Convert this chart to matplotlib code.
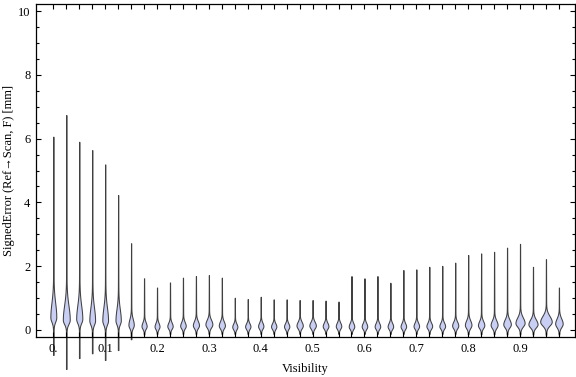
import matplotlib
matplotlib.use('Agg')
import matplotlib.pyplot as plt
import numpy as np
from matplotlib.ticker import MultipleLocator

plt.rcParams['font.family'] = ['Liberation Serif', 'DejaVu Serif']

# data: one violin per visibility bin
visibility = [round(0.025 * i, 3) for i in range(40)]
err_max = [6.06, 6.74, 5.90, 5.64, 5.19, 4.23, 2.72, 1.62, 1.33, 1.49,
           1.64, 1.69, 1.72, 1.64, 1.01, 0.97, 1.04, 0.96, 0.96, 0.94,
           0.94, 0.92, 0.89, 1.69, 1.62, 1.69, 1.48, 1.88, 1.90, 1.98,
           2.01, 2.11, 2.35, 2.40, 2.45, 2.58, 2.70, 1.98, 2.22, 1.33]
err_min = [-0.78, -1.22, -0.88, -0.73, -0.94, -0.63, -0.29, -0.14, -0.12, -0.12,
           -0.12, -0.12, -0.12, -0.12, -0.12, -0.12, -0.12, -0.12, -0.12, -0.12,
           -0.12, -0.12, -0.12, -0.12, -0.12, -0.12, -0.12, -0.12, -0.12, -0.12,
           -0.12, -0.12, -0.13, -0.13, -0.13, -0.14, -0.14, -0.14, -0.15, -0.14]
# mode of the distribution and spread below / above it
mode = [0.40, 0.32, 0.35, 0.30, 0.30, 0.30, 0.16, 0.12, 0.11, 0.12,
        0.13, 0.15, 0.18, 0.14, 0.10, 0.11, 0.12, 0.11, 0.11, 0.14,
        0.14, 0.12, 0.12, 0.11, 0.11, 0.11, 0.11, 0.11, 0.12, 0.12,
        0.12, 0.14, 0.16, 0.15, 0.16, 0.18, 0.22, 0.18, 0.26, 0.20]
spread_lo = [0.14, 0.13, 0.13, 0.13, 0.13, 0.12, 0.10, 0.08, 0.08, 0.08,
             0.08, 0.09, 0.10, 0.09, 0.08, 0.08, 0.08, 0.08, 0.08, 0.09,
             0.09, 0.08, 0.08, 0.08, 0.08, 0.08, 0.08, 0.08, 0.08, 0.08,
             0.08, 0.09, 0.10, 0.09, 0.10, 0.10, 0.11, 0.10, 0.12, 0.11]
spread_hi = [0.45, 0.45, 0.42, 0.40, 0.40, 0.35, 0.18, 0.12, 0.11, 0.11,
             0.12, 0.13, 0.14, 0.13, 0.10, 0.10, 0.11, 0.10, 0.10, 0.12,
             0.12, 0.11, 0.11, 0.11, 0.11, 0.11, 0.11, 0.11, 0.11, 0.11,
             0.11, 0.12, 0.14, 0.13, 0.14, 0.15, 0.17, 0.15, 0.18, 0.16]
peak = [2.7, 3.2, 2.8, 2.6, 2.6, 2.4, 2.4, 2.3, 2.2, 2.4,
        2.5, 2.8, 3.2, 2.8, 2.3, 2.4, 2.4, 2.4, 2.4, 2.9,
        3.0, 2.6, 2.5, 2.5, 2.5, 2.5, 2.5, 2.5, 2.5, 2.6,
        2.6, 2.8, 3.0, 2.9, 3.2, 3.5, 4.3, 4.3, 5.5, 3.5]

fig = plt.figure(figsize=(5.76, 3.77), dpi=100)
ax = fig.add_axes([36 / 576, 40 / 377, 539 / 576, 333 / 377])

px = 518.4  # pixels per visibility unit
stats = []
widths = []
for i in range(len(visibility)):
    y = np.linspace(err_min[i], err_max[i], 600)
    d = y - mode[i]
    s = np.where(d < 0, spread_lo[i], spread_hi[i])
    bulb = np.exp(-0.5 * (d / s) ** 2)
    frac = (err_max[i] - y) / (err_max[i] - err_min[i])
    tail = (0.3 / peak[i]) * (0.3 + 0.7 * frac)
    vals = bulb + tail
    stats.append(dict(coords=y, vals=vals, mean=mode[i], median=mode[i],
                      min=err_min[i], max=err_max[i]))
    widths.append(2 * peak[i] * vals.max() / px)

parts = ax.violin(stats, positions=visibility, widths=widths,
                  showextrema=False)
for b in parts['bodies']:
    b.set_facecolor('#c9cff4')
    b.set_edgecolor('#404040')
    b.set_linewidth(0.75)
    b.set_alpha(1)
    b.set_clip_on(False)

ax.set_xlim(-0.0334, 1.006)
ax.set_ylim(-0.22, 10.22)

ax.set_xticks(visibility)
ax.set_xticklabels(['0.' if v == 0 else (f'{v:.1f}' if abs(v * 10 - round(v * 10)) < 1e-9 else '')
                    for v in visibility])
ax.yaxis.set_major_locator(MultipleLocator(2))
ax.yaxis.set_minor_locator(MultipleLocator(0.5))

ax.tick_params(axis='both', which='major', direction='in', length=3.6, width=0.8,
               labelsize=9, top=True, right=True, labeltop=False, labelright=False)
ax.tick_params(axis='y', which='major', pad=4)
ax.tick_params(axis='x', which='major', pad=4, length=3.4)
ax.tick_params(axis='y', which='minor', direction='in', length=2.2, width=0.8, right=True)
for sp in ax.spines.values():
    sp.set_linewidth(0.9)

ax.set_xlabel('Visibility', fontsize=9, labelpad=6)
ax.set_ylabel('SignedError (Ref\u2192Scan, F) [mm]', fontsize=9, labelpad=2)

fig.savefig('out.png', dpi=100, facecolor='white')
